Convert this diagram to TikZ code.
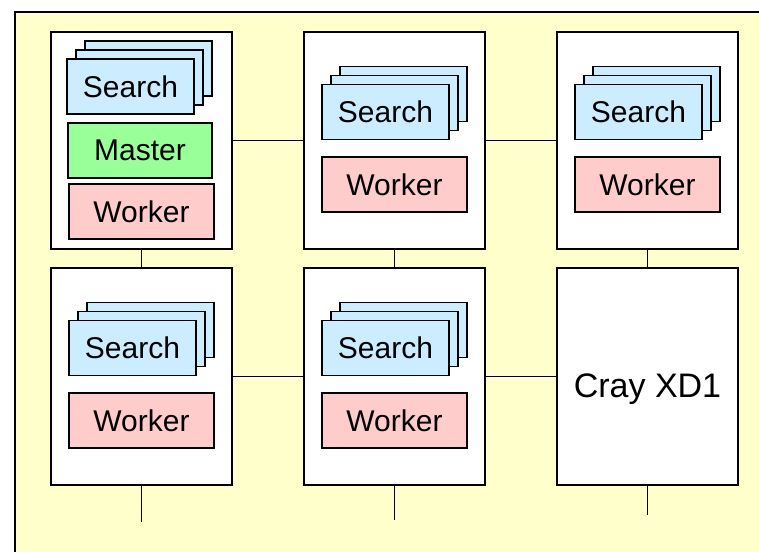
\documentclass[tikz,border=0pt]{standalone}
\usepackage{fontspec}
\setmainfont{Liberation Sans}
\definecolor{panelyellow}{RGB}{255,255,204}
\definecolor{searchblue}{RGB}{204,236,255}
\definecolor{mastergreen}{RGB}{153,255,153}
\definecolor{workerpink}{RGB}{255,204,204}
\begin{document}
\begin{tikzpicture}[x=1pt,y=-1pt,line width=1.6pt,
  host/.style={draw,fill=white,minimum width=181pt,minimum height=217pt,inner sep=0pt},
  task/.style={draw,minimum height=55pt,inner sep=0pt,font=\fontsize{30}{36}\selectfont},
  search/.style={task,fill=searchblue,minimum width=127pt},
  master/.style={task,fill=mastergreen,minimum width=144pt},
  worker/.style={task,fill=workerpink,minimum width=145pt}]
  \clip (0,0) rectangle (759,551);
  \useasboundingbox (0,0) rectangle (759,551);
  \draw[fill=panelyellow] (15,12) rectangle (800,600);

  % hosts
  \node[host] (h1) at (141.5,140.5) {};
  \node[host] (h2) at (394.5,140.5) {};
  \node[host] (h3) at (647.5,140.5) {};
  \node[host] (h4) at (141.5,376.5) {};
  \node[host] (h5) at (394.5,376.5) {};
  \node[host,font=\fontsize{34}{40}\selectfont,text height=41pt,text depth=0pt]
    (xd1) at (647.5,376.5) {Cray XD1};

  % network
  \draw (h1) -- (h2) -- (h3);
  \draw (h4) -- (h5) -- (xd1);
  \draw (h1) -- (h4);
  \draw (h2) -- (h5);
  \draw (h3) -- (xd1);
  \coordinate (e4) at (141.5,522);
  \coordinate (e5) at (394.5,520);
  \coordinate (e6) at (647.5,515);
  \draw (h4.south) -- (e4);
  \draw (h5.south) -- (e5);
  \draw (xd1.south) -- (e6);

  % tasks on each host
  \foreach \k in {2,1} \node[search] at (130.5+9*\k,86.5-9*\k) {};
  \node[search] (s1) at (130.5,86.5) {Search};
  \node[master] (m1) at (140,150.5) {Master};
  \node[worker] (w1) at (141.5,211.5) {Worker};

  \foreach \k in {2,1} \node[search] at (385.5+9*\k,112-9*\k) {};
  \node[search] (s2) at (385.5,112) {Search};
  \node[worker] (w2) at (394.5,184.5) {Worker};

  \foreach \k in {2,1} \node[search] at (638.5+9*\k,112-9*\k) {};
  \node[search] (s3) at (638.5,112) {Search};
  \node[worker] (w3) at (647.5,184.5) {Worker};

  \foreach \k in {2,1} \node[search] at (132.5+9*\k,348-9*\k) {};
  \node[search] (s4) at (132.5,348) {Search};
  \node[worker] (w4) at (141.5,420.5) {Worker};

  \foreach \k in {2,1} \node[search] at (385.5+9*\k,348-9*\k) {};
  \node[search] (s5) at (385.5,348) {Search};
  \node[worker] (w5) at (394.5,420.5) {Worker};
\end{tikzpicture}
\end{document}
